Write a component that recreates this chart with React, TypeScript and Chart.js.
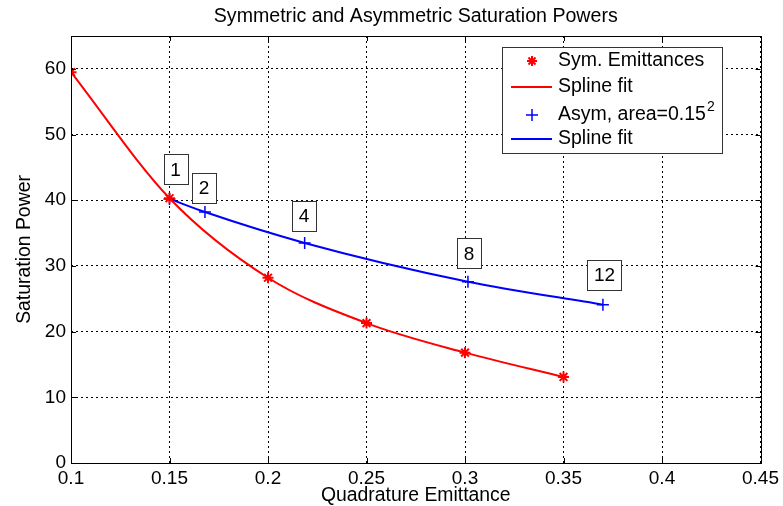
import React, { useEffect, useRef } from "react";
import { Chart, registerables } from "chart.js";
Chart.register(...registerables);

const chartTitle = "Symmetric and Asymmetric Saturation Powers";
const xTitle = "Quadrature Emittance";
const yTitle = "Saturation Power";

const symX = [0.1, 0.15, 0.2, 0.25, 0.3, 0.35];
const symY = [59.5, 40.3, 28.2, 21.3, 16.8, 13.1];
const asymX = [0.15, 0.168, 0.2186, 0.3015, 0.37];
const asymY = [40.2, 38.2, 33.5, 27.6, 24.1];
const asymLabels = ["1", "2", "4", "8", "12"];
const labelX = [0.153, 0.1675, 0.2183, 0.302, 0.3708];
const labelY = [44.7, 41.9, 37.6, 31.9, 28.6];
const xTicks = [0.1, 0.15, 0.2, 0.25, 0.3, 0.35, 0.4, 0.45];
const yTicks = [0, 10, 20, 30, 40, 50, 60];
const legendLabels = ["Sym. Emittances", "Spline fit", "Asym, area=0.15", "Spline fit"];

const FONT = "'Liberation Sans', Arial, sans-serif";
const RED = "rgb(255,0,0)";
const BLUE = "rgb(0,0,255)";

const pts = (xs: number[], ys: number[]) => xs.map((x, i) => ({ x, y: ys[i] }));

const decorPlugin = {
  id: "decor",
  afterDatasetsDraw(chart: any) {
    const ctx = chart.ctx;
    const xs = chart.scales.x;
    const ys = chart.scales.y;
    const a = chart.chartArea;
    ctx.save();
    // frame
    ctx.strokeStyle = "#000";
    ctx.lineWidth = 1;
    ctx.setLineDash([]);
    ctx.strokeRect(Math.round(a.left) + 0.5, Math.round(a.top) + 0.5, Math.round(a.right - a.left), Math.round(a.bottom - a.top));
    // inner tick marks
    const tl = 5;
    xTicks.forEach((v) => {
      const px = Math.round(xs.getPixelForValue(v)) + 0.5;
      ctx.beginPath();
      ctx.moveTo(px, a.bottom); ctx.lineTo(px, a.bottom - tl);
      ctx.moveTo(px, a.top); ctx.lineTo(px, a.top + tl);
      ctx.stroke();
    });
    yTicks.forEach((v) => {
      const py = Math.round(ys.getPixelForValue(v)) + 0.5;
      ctx.beginPath();
      ctx.moveTo(a.left, py); ctx.lineTo(a.left + tl, py);
      ctx.moveTo(a.right, py); ctx.lineTo(a.right - tl, py);
      ctx.stroke();
    });
    // annotation boxes
    ctx.font = `19px ${FONT}`;
    ctx.textAlign = "center";
    ctx.textBaseline = "middle";
    asymLabels.forEach((t, i) => {
      const cx = xs.getPixelForValue(labelX[i]);
      const cy = ys.getPixelForValue(labelY[i]);
      const w = ctx.measureText(t).width + 13;
      const h = 30;
      ctx.fillStyle = "#fff";
      ctx.fillRect(cx - w / 2, cy - h / 2, w, h);
      ctx.strokeStyle = "#333";
      ctx.strokeRect(Math.round(cx - w / 2) + 0.5, Math.round(cy - h / 2) + 0.5, Math.round(w), h);
      ctx.fillStyle = "#000";
      ctx.fillText(t, cx, cy + 1);
    });
    ctx.restore();
  },
  afterDraw(chart: any) {
    const ctx = chart.ctx;
    const a = chart.chartArea;
    ctx.save();
    ctx.fillStyle = "#000";
    ctx.font = `19.6px ${FONT}`;
    ctx.textAlign = "center";
    ctx.textBaseline = "middle";
    ctx.fillText(chartTitle, (a.left + a.right) / 2, 17);
    ctx.font = `19.4px ${FONT}`;
    ctx.fillText(xTitle, (a.left + a.right) / 2, 496);
    ctx.save();
    ctx.translate(25, (a.top + a.bottom) / 2);
    ctx.rotate(-Math.PI / 2);
    ctx.fillText(yTitle, 0, 0);
    ctx.restore();
    // legend
    const lx = 502, ly = 47, lw = 220, lh = 106;
    ctx.fillStyle = "#fff";
    ctx.fillRect(lx, ly, lw, lh);
    ctx.strokeStyle = "#333";
    ctx.lineWidth = 1;
    ctx.strokeRect(lx + 0.5, ly + 0.5, lw, lh);
    const rows = [61, 87, 115, 139];
    const mx = 532;
    ctx.textAlign = "left";
    ctx.font = `19.5px ${FONT}`;
    rows.forEach((ry, i) => {
      ctx.fillStyle = "#000";
      ctx.fillText(legendLabels[i], 558, ry);
      if (i === 2) {
        const w = ctx.measureText(legendLabels[i]).width;
        ctx.font = `14px ${FONT}`;
        ctx.fillText("2", 558 + w + 1, ry - 8);
        ctx.font = `19.5px ${FONT}`;
      }
    });
    // markers
    ctx.lineWidth = 2;
    ctx.strokeStyle = RED;
    const r = 5;
    ctx.beginPath();
    for (let k = 0; k < 4; k++) {
      const ang = (k * Math.PI) / 4;
      ctx.moveTo(mx - r * Math.cos(ang), rows[0] - r * Math.sin(ang));
      ctx.lineTo(mx + r * Math.cos(ang), rows[0] + r * Math.sin(ang));
    }
    ctx.stroke();
    ctx.beginPath();
    ctx.moveTo(511, rows[1]); ctx.lineTo(552, rows[1]);
    ctx.stroke();
    ctx.strokeStyle = BLUE;
    ctx.lineWidth = 1.5;
    ctx.beginPath();
    ctx.moveTo(mx - 6, rows[2]); ctx.lineTo(mx + 6, rows[2]);
    ctx.moveTo(mx, rows[2] - 6); ctx.lineTo(mx, rows[2] + 6);
    ctx.stroke();
    ctx.lineWidth = 2;
    ctx.beginPath();
    ctx.moveTo(511, rows[3]); ctx.lineTo(552, rows[3]);
    ctx.stroke();
    ctx.restore();
  },
};

export default function App() {
  const ref = useRef<HTMLCanvasElement | null>(null);
  useEffect(() => {
    if (!ref.current) return;
    const chart = new Chart(ref.current, {
      type: "scatter",
      data: {
        datasets: [
          {
            label: "Spline fit",
            data: pts(symX, symY),
            showLine: true,
            borderColor: RED,
            borderWidth: 2,
            pointRadius: 0,
            cubicInterpolationMode: "monotone",
          },
          {
            label: "Spline fit",
            data: pts(asymX, asymY),
            showLine: true,
            borderColor: BLUE,
            borderWidth: 2,
            pointRadius: 0,
            cubicInterpolationMode: "monotone",
          },
          {
            label: "Sym. Emittances",
            data: pts(symX, symY),
            showLine: false,
            pointStyle: "star",
            pointRadius: 5.5,
            borderColor: RED,
            backgroundColor: RED,
            pointBorderWidth: 2,
          },
          {
            label: "Asym",
            data: pts(asymX, asymY),
            showLine: false,
            pointStyle: "cross",
            pointRadius: 6,
            borderColor: BLUE,
            backgroundColor: BLUE,
            pointBorderWidth: 1.5,
          },
        ] as any,
      },
      options: {
        animation: false,
        responsive: false,
        devicePixelRatio: 1,
        layout: { padding: { top: 36, right: 18, left: 0, bottom: 0 } },
        plugins: { legend: { display: false }, title: { display: false }, tooltip: { enabled: false } },
        scales: {
          x: {
            type: "linear",
            min: 0.1,
            max: 0.45,
            afterBuildTicks: (s: any) => { s.ticks = xTicks.map((v) => ({ value: v })); },
            afterFit: (s: any) => { s.height = 43; },
            ticks: {
              color: "#000",
              font: { family: FONT, size: 19 },
              padding: 4,
              maxRotation: 0,
              autoSkip: false,
              callback: (v: any) => String(Number(Number(v).toFixed(2))),
            },
            grid: { color: "#000", lineWidth: 1, drawTicks: false },
            border: { display: false, dash: [2, 3] },
          },
          y: {
            type: "linear",
            min: 0,
            max: 65,
            afterBuildTicks: (s: any) => { s.ticks = yTicks.map((v) => ({ value: v })); },
            afterFit: (s: any) => { s.width = 71; },
            ticks: {
              color: "#000",
              font: { family: FONT, size: 19 },
              padding: 5,
              autoSkip: false,
              callback: (v: any) => String(v),
            },
            grid: { color: "#000", lineWidth: 1, drawTicks: false },
            border: { display: false, dash: [2, 3] },
          },
        },
      } as any,
      plugins: [decorPlugin],
    });
    return () => chart.destroy();
  }, []);
  return (
    <div style={{ position: "fixed", left: 0, top: 0, width: 783, height: 506, background: "#fff" }}>
      <canvas ref={ref} width={783} height={506} style={{ display: "block" }} />
    </div>
  );
}
